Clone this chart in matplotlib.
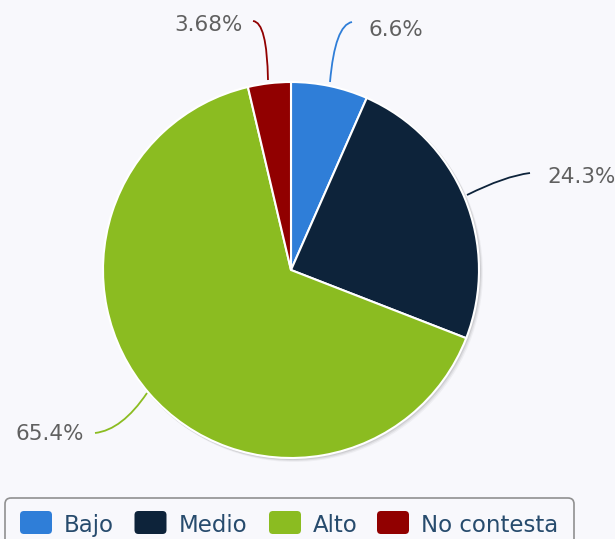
import matplotlib.pyplot as plt
from matplotlib.patches import FancyBboxPatch, Circle, PathPatch
from matplotlib.path import Path

# data
categories = ['Bajo', 'Medio', 'Alto', 'No contesta']
values = [6.6, 24.3, 65.4, 3.68]
labels = ['6.6%', '24.3%', '65.4%', '3.68%']
colors = ['#2f7ed8', '#0d233a', '#8bbc21', '#910000']

W, H = 615, 539
fig = plt.figure(figsize=(W / 100, H / 100), dpi=100)
fig.patch.set_facecolor('#f8f8fc')
ax = fig.add_axes([0, 0, 1, 1])

cx, cy, r = 291, 270, 188

# soft shadow
for i, a in enumerate([0.08, 0.06, 0.04]):
    ax.add_patch(Circle((cx + 1 + i, cy + 1 + i), r + 1, color='black', alpha=a, lw=0, zorder=1))

# y axis is inverted: startangle=-90 is screen top, counterclock looks clockwise
wedges, _ = ax.pie(values, colors=colors, startangle=-90, counterclock=True,
                   center=(cx, cy), radius=r, frame=True,
                   wedgeprops=dict(edgecolor='white', linewidth=1.5, zorder=2))
ax.set_xlim(0, W)
ax.set_ylim(H, 0)  # pixel-like coords, y down
ax.axis('off')

# connectors: start on pie edge, control point, end near label
connectors = [
    ((330, 82), (335, 25), (352, 22)),
    ((467, 195), (505, 176), (530, 173)),
    ((147, 393), (122, 430), (95, 433)),
    ((268, 80), (267, 22), (253, 21)),
]
label_pos = [(369, 30, 'left'), (547, 177, 'left'), (84, 434, 'right'), (243, 25, 'right')]

for (p0, p1, p2), c, lab, (tx, ty, ha) in zip(connectors, colors, labels, label_pos):
    path = Path([p0, p1, p2], [Path.MOVETO, Path.CURVE3, Path.CURVE3])
    ax.add_patch(PathPatch(path, fc='none', ec=c, lw=1.3, zorder=3))
    ax.text(tx, ty, lab, ha=ha, va='center', fontsize=15.5, color='#606060', zorder=4)

# legend box
ax.add_patch(FancyBboxPatch((5, 498), 569, 70, boxstyle='round,pad=0,rounding_size=6',
                            fc='none', ec='#909090', lw=1.2, zorder=3))
item_x = [20, 134.5, 269, 377]
for x, c, name in zip(item_x, colors, categories):
    ax.add_patch(FancyBboxPatch((x, 511), 32, 23, boxstyle='round,pad=0,rounding_size=4',
                                fc=c, ec='none', zorder=4))
    ax.text(x + 44, 532, name, ha='left', va='baseline', fontsize=16.5, color='#274b6d', zorder=4)

fig.savefig('out.png', dpi=100, facecolor=fig.get_facecolor())
